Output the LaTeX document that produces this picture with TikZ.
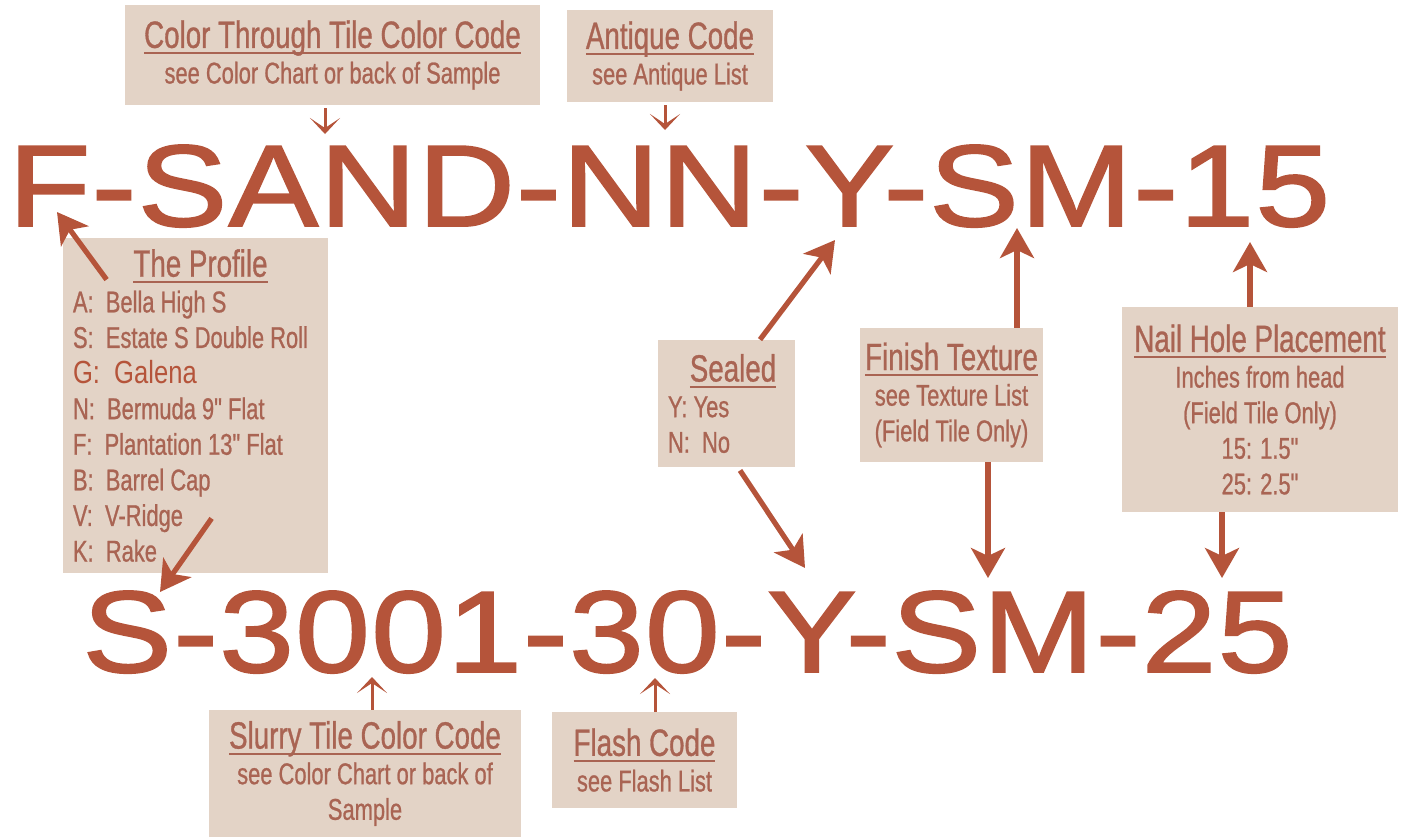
\documentclass[tikz,border=0pt]{standalone}
\usepackage{fontspec}
\setmainfont{Liberation Sans}
\newfontfamily\gothicfont[FakeStretch=0.73, FakeBold=0.8]{Liberation Sans}
\newfontfamily\galenafont[FakeStretch=0.8]{Liberation Sans}
\newfontfamily\codefont[FakeStretch=1.16, FakeBold=1.6, LetterSpace=1]{Liberation Sans}
\usetikzlibrary{positioning, arrows.meta}

\definecolor{tilerust}{HTML}{B5543A}
\definecolor{boxsand}{HTML}{E3D3C6}
\definecolor{labelrust}{HTML}{A96453}

% underlined box heading
\newcommand{\boxtitle}[1]{{\fontsize{19}{17.8}\selectfont\setbox0\hbox{#1}%
  \rlap{\color{labelrust}\rule[-3.2pt]{\wd0}{1.2pt}}\box0}}

\begin{document}
\begin{tikzpicture}[
    x=0.5pt, y=-0.5pt,
    % --- Styles ---
    infobox/.style={
        rectangle,
        fill=boxsand,
        inner sep=0pt,
        align=center,
        text=labelrust,
        font=\gothicfont\fontsize{15}{17.8}\selectfont
    },
    listbox/.style={
        infobox,
        align=left,
        execute at begin node={\spaceskip=0pt \xspaceskip=0pt}
    },
    code/.style={
        text=tilerust,
        font=\codefont\fontsize{58}{60}\selectfont,
        inner sep=0pt,
        anchor=base west
    },
    bigarrow/.style={
        -{Stealth[length=15pt, width=17pt, inset=4pt]},
        line width=2.6pt,
        draw=tilerust
    },
    smallarrow/.style={
        -{Stealth[length=8pt, width=15pt, inset=5pt]},
        line width=1.5pt,
        draw=tilerust
    }
]
\useasboundingbox (0,0) rectangle (1411,837);

% --- Part numbers ---
\node[code] (codefield) at (8,226) {F-SAND-NN-Y-SM-15};
\node[code] (codeslurry) at (82,672) {S-3001-30-Y-SM-25};

% --- Boxes ---
\node[infobox, minimum width=207.5pt, minimum height=50pt] (colorcode) at (332.5,55)
    {\boxtitle{Color Through Tile Color Code}\\ see Color Chart or back of Sample};
\node[infobox, minimum width=103pt, minimum height=46pt] (antique) at (670,56)
    {\boxtitle{Antique Code}\\ see Antique List};
\node[listbox, minimum width=132.5pt, minimum height=167.5pt, text width=122.5pt] (profile) at (195.5,405.5)
    {\makebox[122.5pt]{\hspace{5pt}\boxtitle{The Profile}}\\
     A:\ \ Bella High S\\
     S:\ \ Estate S Double Roll\\
     {\galenafont\fontsize{16}{17.8}\selectfont\color{tilerust}G:\ \ Galena}\\
     N:\ \ Bermuda 9" Flat\\
     F:\ \ Plantation 13" Flat\\
     B:\ \ Barrel Cap\\
     V:\ \ V-Ridge\\
     K:\ \ Rake};
\node[listbox, minimum width=68.5pt, minimum height=63.5pt, text width=58.5pt] (sealed) at (726.5,403.5)
    {\makebox[58.5pt]{\hspace{6.5pt}\boxtitle{Sealed}}\\ Y: Yes\\ N:\ \ No};
\node[infobox, minimum width=91.5pt, minimum height=67pt] (finish) at (951.5,395)
    {\boxtitle{Finish Texture}\\ see Texture List\\ (Field Tile Only)};
\node[infobox, minimum width=138pt, minimum height=102.5pt] (nailhole) at (1260,409.5)
    {\boxtitle{Nail Hole Placement}\\ Inches from head\\ (Field Tile Only)\\ 15: 1.5"\\ 25: 2.5"};
\node[infobox, minimum width=156pt, minimum height=63.5pt] (slurry) at (365,773.5)
    {\boxtitle{Slurry Tile Color Code}\\ see Color Chart or back of\\ Sample};
\node[infobox, minimum width=92.5pt, minimum height=48pt] (flash) at (644.5,760)
    {\boxtitle{Flash Code}\\ see Flash List};

% --- Arrow tips on the part numbers ---
\coordinate (tipsand) at (325,134);
\coordinate (tipnn) at (665,130);
\coordinate (tipf) at (57,212);
\coordinate (tips) at (160,592);
\coordinate (tipy) at (835,240);
\coordinate (tipsm) at (1017,228);
\coordinate (tipfifteen) at (1250,242);
\coordinate (tipytwo) at (805,568);
\coordinate (tipsmtwo) at (988,578);
\coordinate (tiptwentyfive) at (1222,578);
\coordinate (tipthreeooone) at (372,677);
\coordinate (tipthirty) at (655,678);

% --- Arrows ---
\draw[smallarrow] ([yshift=-1.5pt]colorcode.south -| tipsand) -- (tipsand);
\draw[smallarrow] ([yshift=-1.5pt]antique.south -| tipnn) -- (tipnn);
\draw[bigarrow] ([shift={(44,42)}]profile.north west) -- (tipf);
\draw[bigarrow] ([shift={(149,-55)}]profile.south west) -- (tips);
\draw[bigarrow] ([shift={(33.5,0)}]sealed.north) -- (tipy);
\draw[bigarrow] ([shift={(13.5,3)}]sealed.south) -- (tipytwo);
\draw[bigarrow] (finish.north -| tipsm) -- (tipsm);
\draw[bigarrow] (finish.south -| tipsmtwo) -- (tipsmtwo);
\draw[bigarrow] (nailhole.north -| tipfifteen) -- (tipfifteen);
\draw[bigarrow] (nailhole.south -| tiptwentyfive) -- (tiptwentyfive);
\draw[smallarrow] (slurry.north -| tipthreeooone) -- (tipthreeooone);
\draw[smallarrow] (flash.north -| tipthirty) -- (tipthirty);

\end{tikzpicture}
\end{document}
